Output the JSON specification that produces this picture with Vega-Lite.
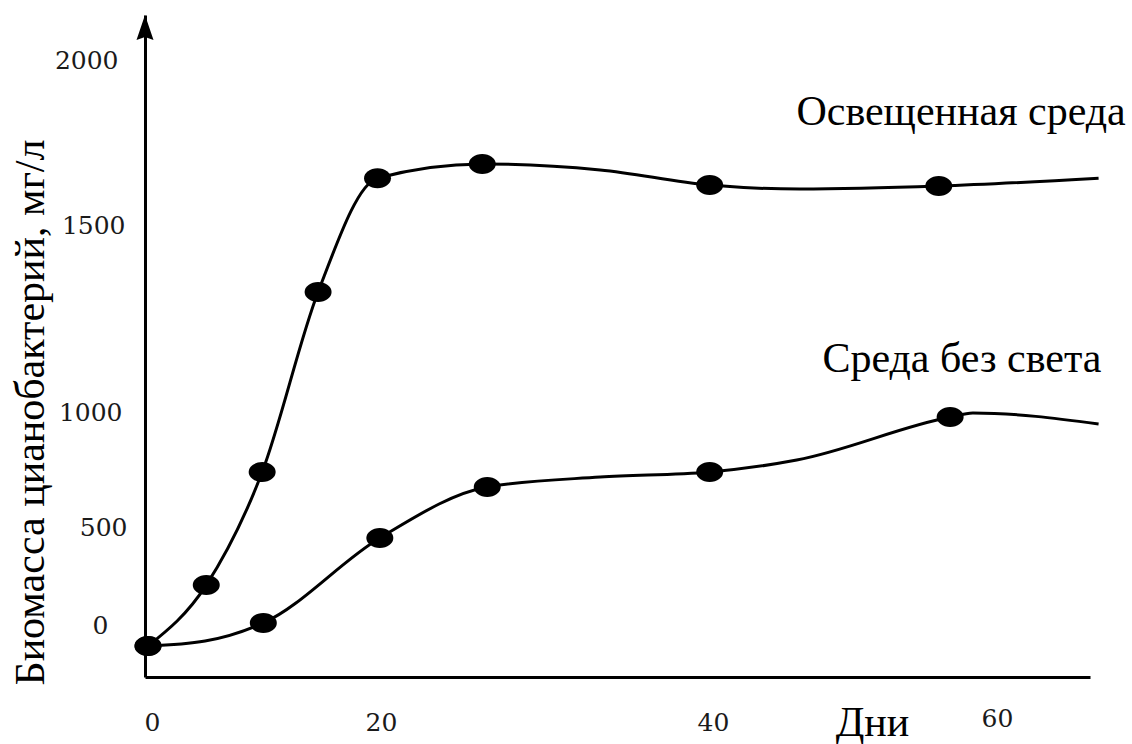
{
  "$schema": "https://vega.github.io/schema/vega-lite/v6.json",
  "width": 945,
  "height": 662,
  "autosize": {"type": "none"},
  "padding": {"left": 145, "top": 15, "right": 42, "bottom": 67},
  "background": "white",
  "config": {"view": {"stroke": null}},
  "datasets": {
    "curves": [
      {"series": "light", "day": 0, "mg": 0, "marker": true},
      {"series": "light", "day": 5.0, "mg": 256, "marker": true},
      {"series": "light", "day": 9.8, "mg": 739, "marker": true},
      {"series": "light", "day": 14.6, "mg": 1321, "marker": true},
      {"series": "light", "day": 19.7, "mg": 1642, "marker": true},
      {"series": "light", "day": 26.1, "mg": 1685, "marker": true},
      {"series": "light", "day": 33.2, "mg": 1667, "marker": false},
      {"series": "light", "day": 39.8, "mg": 1621, "marker": true},
      {"series": "light", "day": 46.1, "mg": 1609, "marker": false},
      {"series": "light", "day": 55.9, "mg": 1618, "marker": true},
      {"series": "light", "day": 67.1, "mg": 1642, "marker": false},
      {"series": "dark", "day": 0, "mg": 0, "marker": true},
      {"series": "dark", "day": 4.9, "mg": 21, "marker": false},
      {"series": "dark", "day": 9.9, "mg": 97, "marker": true},
      {"series": "dark", "day": 19.9, "mg": 454, "marker": true},
      {"series": "dark", "day": 26.4, "mg": 674, "marker": true},
      {"series": "dark", "day": 33.2, "mg": 717, "marker": false},
      {"series": "dark", "day": 39.8, "mg": 739, "marker": true},
      {"series": "dark", "day": 45.9, "mg": 791, "marker": false},
      {"series": "dark", "day": 56.7, "mg": 978, "marker": true},
      {"series": "dark", "day": 58.3, "mg": 996, "marker": false},
      {"series": "dark", "day": 67.1, "mg": 948, "marker": false}
    ],
    "labels": [
      {"day": 69.0, "mg": 1803, "label": "Освещенная среда"},
      {"day": 67.3, "mg": 1107, "label": "Среда без света"}
    ],
    "axisarrow": [
      {"name": "y-axis arrow"}
    ]
  },
  "layer": [
    {
      "data": {"name": "curves"},
      "mark": {"type": "line", "interpolate": "monotone", "color": "black", "strokeWidth": 3},
      "encoding": {
        "x": {
          "field": "day",
          "type": "quantitative",
          "scale": {"type": "linear", "domain": [-0.25, 0, 20, 40, 60, 66.5], "range": [0, 3, 236, 568, 852, 945], "nice": false, "zero": false},
          "axis": {
            "values": [0, 20, 40, 60],
            "format": "d",
            "title": "Дни",
            "titleFont": "Liberation Serif",
            "titleFontSize": 42,
            "titleFontWeight": "normal",
            "titleColor": "black",
            "titleX": 727,
            "titleY": 58,
            "titleAlign": "center",
            "titleBaseline": "alphabetic",
            "labelFont": "DejaVu Serif",
            "labelFontSize": 25,
            "labelColor": "#1a1a1a",
            "labelFlush": false,
            "labelOverlap": false,
            "labelPadding": {"condition": {"test": "datum.value === 60", "value": 29}, "value": 33},
            "labelOffset": {"condition": {"test": "datum.value === 0", "value": 4}, "value": 0},
            "ticks": false,
            "tickSize": 0,
            "grid": false,
            "domainColor": "black",
            "domainWidth": 3
          }
        },
        "y": {
          "field": "mg",
          "type": "quantitative",
          "scale": {"type": "linear", "domain": [-130, 0, 500, 1000, 1500, 2000, 2136], "range": [662, 631, 512, 397, 210, 45, 0], "nice": false, "zero": false},
          "axis": {
            "values": [0, 500, 1000, 1500, 2000],
            "format": "d",
            "title": "Биомасса цианобактерий, мг/л",
            "titleFont": "Liberation Serif",
            "titleFontSize": 42,
            "titleFontWeight": "normal",
            "titleColor": "black",
            "titleAngle": -90,
            "titleX": -102,
            "titleY": 397,
            "titleAlign": "center",
            "titleBaseline": "alphabetic",
            "labelFont": "DejaVu Serif",
            "labelFontSize": 25,
            "labelColor": "#1a1a1a",
            "labelOverlap": false,
            "labelFlush": false,
            "labelPadding": {"condition": [{"test": "datum.value === 0", "value": 37}, {"test": "datum.value === 500", "value": 18}, {"test": "datum.value === 2000", "value": 27}, {"test": "datum.value === 1500", "value": 20}], "value": 23},
            "labelOffset": {"condition": {"test": "datum.value === 0", "value": -21}, "value": 0},
            "ticks": false,
            "tickSize": 0,
            "grid": false,
            "domainColor": "black",
            "domainWidth": 3
          }
        },
        "detail": {"field": "series"}
      }
    },
    {
      "data": {"name": "curves"},
      "transform": [{"filter": "datum.marker"}],
      "mark": {"type": "point", "filled": true, "shape": "M-1,0A1,0.74,0,1,0,1,0A1,0.74,0,1,0,-1,0Z", "size": 729, "color": "black", "opacity": 1},
      "encoding": {
        "x": {"field": "day", "type": "quantitative"},
        "y": {"field": "mg", "type": "quantitative"}
      }
    },
    {
      "data": {"name": "labels"},
      "mark": {"type": "text", "align": "right", "baseline": "alphabetic", "font": "Liberation Serif", "fontSize": 42, "color": "black"},
      "encoding": {
        "x": {"field": "day", "type": "quantitative"},
        "y": {"field": "mg", "type": "quantitative"},
        "text": {"field": "label"}
      }
    },
    {
      "data": {"name": "axisarrow"},
      "mark": {"type": "point", "filled": true, "shape": "M0,-1L0.68,1L0,0.75L-0.68,1Z", "size": 625, "color": "black", "opacity": 1},
      "encoding": {
        "x": {"datum": -0.25, "type": "quantitative"},
        "y": {"datum": 2098, "type": "quantitative"}
      }
    }
  ]
}
